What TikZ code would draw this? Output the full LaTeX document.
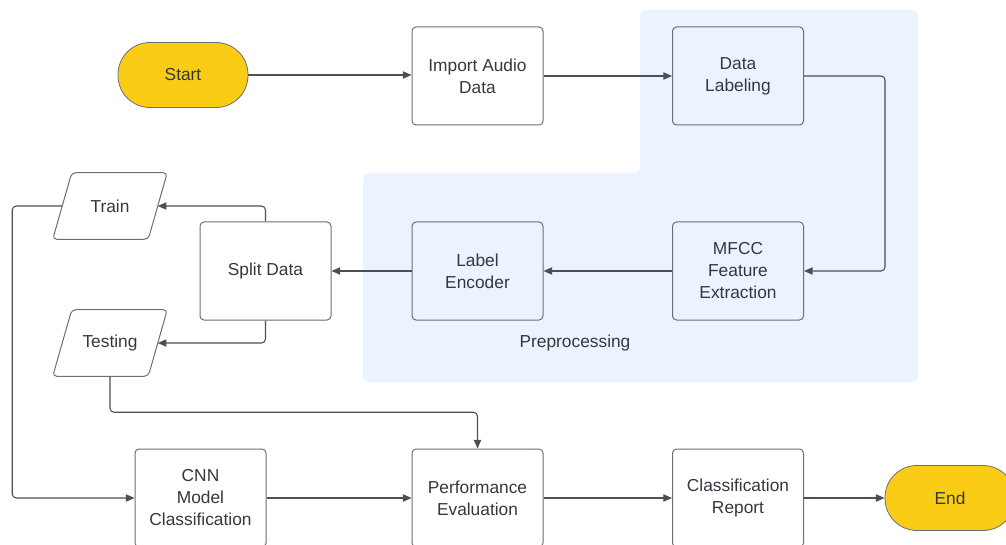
\documentclass[tikz,border=0pt]{standalone}
\usepackage{fontspec}
\setmainfont{Liberation Sans}
\usetikzlibrary{arrows.meta,calc}
\definecolor{linec}{HTML}{4B5058}
\definecolor{boxc}{HTML}{6B6F76}
\definecolor{textc}{HTML}{333840}
\definecolor{bluebg}{HTML}{EBF3FE}
\definecolor{yellowc}{HTML}{FACC15}
\begin{document}
\begin{tikzpicture}[x=0.75pt,y=-0.75pt,
  lbl/.style={text=textc, font=\fontsize{13}{16.5}\selectfont, align=center},
  box/.style={lbl, draw=boxc, line width=0.75pt, rounded corners=3pt, minimum width=98.25pt, minimum height=73.5pt, inner sep=0pt},
  term/.style={lbl, draw=boxc, line width=0.6pt, fill=yellowc, rounded corners=24pt, minimum width=97.5pt, minimum height=48.75pt, inner sep=0pt},
  io/.style={lbl, minimum width=71.25pt, minimum height=49.5pt, inner sep=0pt},
  ioshape/.style={draw=boxc, line width=0.75pt, rounded corners=3pt},
  arr/.style={draw=linec, line width=0.8pt, rounded corners=3pt, -{Triangle[length=6.5pt,width=5.5pt]}}]
\useasboundingbox (0,0) rectangle (1006,545);
\clip (0,0) rectangle (1006,545);
% preprocessing background
\fill[bluebg, rounded corners=4pt] (640,10) -- (918,10) -- (918,382) -- (363,382) -- (363,173) -- (640,173) -- cycle;
\node[lbl] (pre) at (575,343) {Preprocessing};
% nodes
\node[term] (start) at (183,75) {Start};
\node[box] (import) at (477.5,76) {Import Audio\\Data};
\node[box] (datalab) at (738,76) {Data\\Labeling};
\node[box] (mfcc) at (738,271) {MFCC\\Feature\\Extraction};
\node[box] (enc) at (477.5,271) {Label\\Encoder};
\node[box] (split) at (265.5,271) {Split Data};
\node[io] (train) at (110,206) {Train};
\node[io] (test) at (110,343) {Testing};
\draw[ioshape] ($(train.north west)+(9.5,0)$) -- ($(train.north east)+(9.5,0)$) -- ($(train.south east)+(-9.5,0)$) -- ($(train.south west)+(-9.5,0)$) -- cycle;
\draw[ioshape] ($(test.north west)+(9.5,0)$) -- ($(test.north east)+(9.5,0)$) -- ($(test.south east)+(-9.5,0)$) -- ($(test.south west)+(-9.5,0)$) -- cycle;
\node[box] (cnn) at (200.5,498) {CNN\\Model\\Classification};
\node[box] (perf) at (477.5,498) {Performance\\Evaluation};
\node[box] (report) at (738,498) {Classification\\Report};
\node[term] (end) at (950,498) {End};
% connectors
\draw[arr] (start.east) -- (start.east -| import.west);
\draw[arr] (import) -- (datalab);
\draw[arr] (datalab.east) -- ++(81,0) |- (mfcc.east);
\draw[arr] (mfcc) -- (enc);
\draw[arr] (enc) -- (split);
\draw[arr] (split.north) |- (train.east);
\draw[arr] (split.south) |- (test.east);
\draw[arr] (train.west) -- ++(-50,0) |- (cnn.west);
\draw[arr] (test.south) -- ++(0,36) -| (perf.north);
\draw[arr] (cnn) -- (perf);
\draw[arr] (perf) -- (report);
\draw[arr] (report) -- (end);
\end{tikzpicture}
\end{document}
